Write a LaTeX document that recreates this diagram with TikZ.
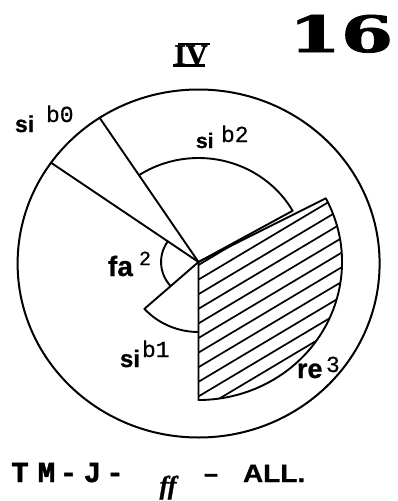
\documentclass[tikz,border=0pt]{standalone}
\usepackage{fontspec}
\usepackage{graphicx}
\newfontfamily\lsans[FakeBold=0.8]{Liberation Sans}
\newfontfamily\lmono[FakeBold=0.6]{Liberation Mono}
\newfontfamily\hmono[FakeBold=1.6]{Liberation Mono}
\newfontfamily\lserif[FakeBold=1]{Liberation Serif}
\newfontfamily\djserif[FakeBold=1.5]{DejaVu Serif}
\tikzset{
  lab/.style={inner sep=0pt, outer sep=0pt, anchor=base west},
  cb/.style={inner sep=0pt, outer sep=0pt, anchor=base},
  pen/.style={line width=1.9pt, line join=round, line cap=round},
  hatchline/.style={line width=1.7pt},
}
\begin{document}
\begin{tikzpicture}[x=1pt, y=-1pt]
\useasboundingbox (0,0) rectangle (398,501);
\fill[white] (0,0) rectangle (398,501);

% outer circle
\draw[pen, line width=2pt] (198.6,263.5) ellipse [x radius=181, y radius=174];

\begin{scope}[shift={(198.5,262)}, xscale=1.04, yscale=-1]
  \coordinate (O) at (0,0);
  % hatching of the re 3 sector
  \begin{scope}
    \clip (O) -- (27.5:138) arc[start angle=27.5, end angle=-90, radius=138] -- cycle;
    \foreach \k in {1,...,11}{
      \pgfmathsetmacro{\yy}{-3-14.6*(\k-1)}
      \draw[hatchline] (-10,{\yy-10*0.62}) -- (170,{\yy+170*0.62});
    }
  \end{scope}
  \draw[pen] (O) -- (27.5:138) arc[start angle=27.5, end angle=-90, radius=138] -- cycle;
  % si b2 sector
  \draw[pen] (O) -- (29.5:104) arc[start angle=29.5, end angle=123.4, radius=104];
  % si b0 sector rays
  \draw[pen] (O) -- (123.4:172.7);
  \draw[pen] (O) -- (145:173.1);
  % fa 2 arc
  \draw[pen] (145:36) arc[start angle=145, end angle=222, radius=36];
  % si b1 sector
  \draw[pen] (O) -- (222:70) arc[start angle=222, end angle=270, radius=70];
\end{scope}

% number 16
\node[cb] (num) at (341,52) {\djserif\bfseries\fontsize{50}{50}\selectfont\scalebox{1.5}[1]{16}};

% IV
\node[cb] (iv) at (191,65) {\lserif\bfseries\fontsize{30}{30}\selectfont IV};
\draw[line width=2.2pt] (178,44) -- (210,44);
\draw[line width=2.2pt] (173,65.5) -- (205,65.5);

% labels
\node[lab] (sib0) at (15,132) {\lsans\bfseries\fontsize{23}{23}\selectfont si};
\node[lab] (sib0s) at (46,122) {\lmono\fontsize{23}{23}\selectfont b0};

\node[lab] (sib2) at (196,148) {\lsans\bfseries\fontsize{21}{21}\selectfont si};
\node[lab] (sib2s) at (221,142) {\lmono\fontsize{23}{23}\selectfont b2};

\node[lab] (fa) at (108,276) {\lsans\bfseries\fontsize{28}{28}\selectfont fa};
\node[lab] (fas) at (139,265) {\lmono\fontsize{20}{20}\selectfont 2};

\node[lab] (sib1) at (120,367) {\lsans\bfseries\fontsize{24}{24}\selectfont si};
\node[lab] (sib1s) at (142,357) {\lmono\fontsize{23}{23}\selectfont b1};

\node[lab] (re) at (297,378) {\lsans\bfseries\fontsize{27}{27}\selectfont re};
\node[lab] (res) at (326,372) {\lmono\fontsize{23}{23}\selectfont 3};

% bottom line
\node[cb] (t1) at (20,482) {\hmono\bfseries\fontsize{29}{29}\selectfont T};
\node[cb] (t2) at (46.5,482) {\hmono\bfseries\fontsize{29}{29}\selectfont M};
\node[cb] (t3) at (68.5,482) {\hmono\bfseries\fontsize{29}{29}\selectfont -};
\node[cb] (t4) at (92.5,482) {\hmono\bfseries\fontsize{29}{29}\selectfont J};
\node[cb] (t5) at (115,482) {\hmono\bfseries\fontsize{29}{29}\selectfont -};
\node[cb] (ff) at (168,494) {\lserif\bfseries\itshape\fontsize{26}{26}\selectfont ff};
\node[cb] (t6) at (211,482) {\lsans\bfseries\fontsize{25}{25}\selectfont –};
\node[lab] (all) at (243,482) {\lsans\bfseries\fontsize{25}{25}\selectfont\scalebox{1.12}[1]{ALL.}};
\end{tikzpicture}
\end{document}
